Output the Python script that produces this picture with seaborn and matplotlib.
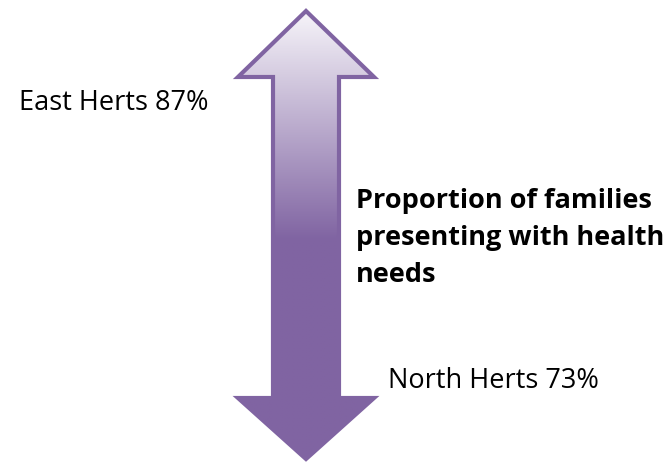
import numpy as np
import matplotlib.pyplot as plt
import seaborn as sns
from matplotlib.patches import Polygon
from matplotlib.colors import LinearSegmentedColormap

# Data
areas = ["East Herts", "North Herts"]
pct = [87, 73]
caption = "Proportion of families\npresenting with health\nneeds"

sns.set_theme(style="white")
plt.rcParams['font.family'] = ['Open Sans', 'DejaVu Sans']

fig = plt.figure(figsize=(6.7, 4.64), dpi=100)
ax = fig.add_axes([0, 0, 1, 1])
ax.set_xlim(0, 670)
ax.set_ylim(464, 0)
ax.axis("off")

purple = "#8064a2"

# double-headed arrow outline
pts = [(306, 12), (374, 78), (339, 78), (339, 399), (374, 399), (306, 460),
       (238, 399), (273, 399), (273, 78), (238, 78)]
arrow = Polygon(pts, closed=True, facecolor="none", edgecolor=purple, lw=3, zorder=3)
ax.add_patch(arrow)

# gradient fill: light at top, solid purple from the middle down
cmap = LinearSegmentedColormap.from_list(
    "grad", [(0, "#f6f4f9"), (0.51, purple), (1, purple)])
grad = np.linspace(0, 1, 256).reshape(-1, 1)
im = ax.imshow(grad, cmap=cmap, extent=(238, 374, 460, 12), aspect="auto", zorder=2)
im.set_clip_path(arrow)

ax.text(19, 103, f"{areas[0]} {pct[0]}%", fontsize=19.5, va="center", ha="left", color="black")
ax.text(388, 381, f"{areas[1]} {pct[1]}%", fontsize=19.5, va="center", ha="left", color="black")
ax.text(356, 238, caption, fontsize=19.5, fontweight="bold", va="center", ha="left",
        color="black", linespacing=1.55)

fig.savefig("out.png", dpi=100)
